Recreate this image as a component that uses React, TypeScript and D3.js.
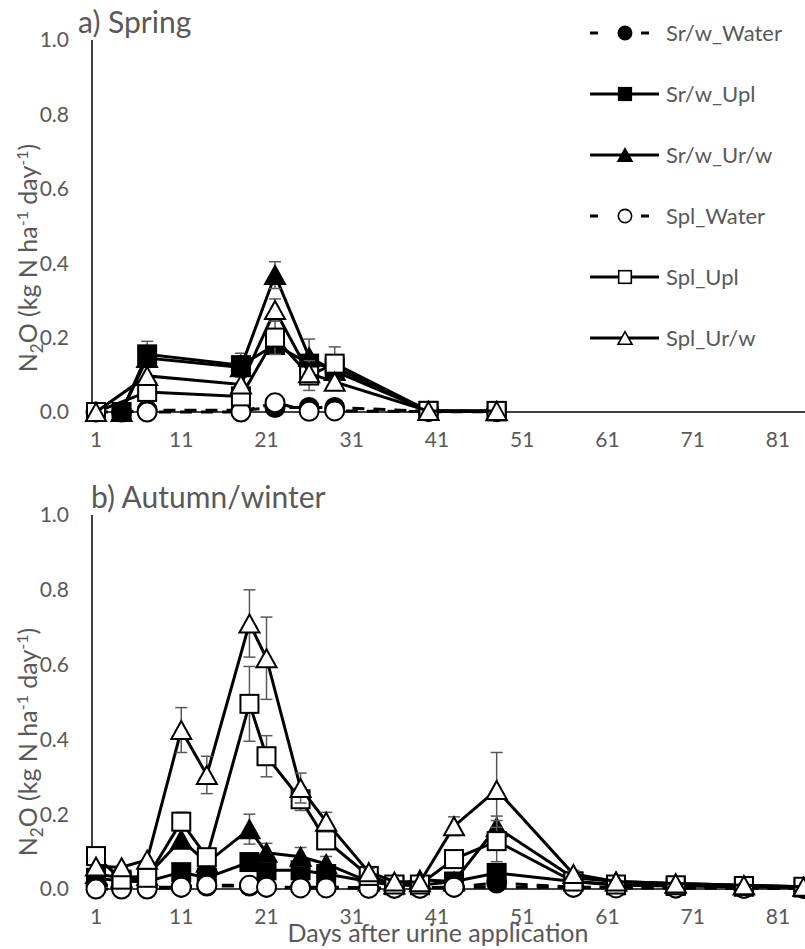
import React from "react";
import * as d3 from "d3";

// ---------- data ----------
const seriesNames = ["Sr/w_Water", "Sr/w_Upl", "Sr/w_Ur/w", "Spl_Water", "Spl_Upl", "Spl_Ur/w"];
const seriesMarkers = ["circle", "square", "triangle", "circle", "square", "triangle"];
const seriesFilled = [true, true, true, false, false, false];
const seriesDashed = [true, false, false, true, false, false];

const xTicks = [1, 11, 21, 31, 41, 51, 61, 71, 81];
const yTicks = [0, 0.2, 0.4, 0.6, 0.8, 1.0];
const xAxisLabel = "Days after urine application";

// a) Spring
const springDaysSrw = [4, 7, 18, 22, 26, 29, 40, 48];
const springDaysSpl = [1, 7, 18, 22, 26, 29, 40, 48];
const springSrwWater = [0.0, 0.005, 0.005, 0.012, 0.012, 0.012, 0.002, 0.002];
const springSrwUpl = [0.0, 0.155, 0.126, 0.18, 0.13, 0.12, 0.003, 0.002];
const springSrwUrw = [0.0, 0.145, 0.12, 0.368, 0.148, 0.11, 0.003, 0.002];
const springSplWater = [0.0, 0.0, 0.0, 0.025, 0.002, 0.003, 0.001, 0.001];
const springSplUpl = [0.0, 0.054, 0.042, 0.2, 0.098, 0.13, 0.003, 0.003];
const springSplUrw = [0.0, 0.097, 0.074, 0.274, 0.104, 0.081, 0.003, 0.003];
const springErrSrwUpl = [0, 0.035, 0.032, 0.02, 0.02, 0, 0, 0];
const springErrSrwUrw = [0, 0, 0, 0.036, 0.048, 0.03, 0, 0];
const springErrSplUpl = [0, 0, 0, 0.045, 0.04, 0.045, 0, 0];
const springErrSplUrw = [0, 0, 0, 0.03, 0, 0, 0, 0];

// b) Autumn/winter
const autumnDays = [1, 4, 7, 11, 14, 19, 21, 25, 28, 33, 36, 39, 43, 48, 57, 62, 69, 77, 84];
const autumnDaysSplWater = [1, 4, 7, 11, 14, 19, 21, 25, 28, 33, 36, 39, 43, 57, 62, 69, 77, 84];
const autumnSrwWater = [0.01, 0.008, 0.005, 0.005, 0.008, 0.008, 0.005, 0.005, 0.005, 0.003, 0.003, 0.003, 0.005, 0.016, 0.005, 0.004, 0.003, 0.002, 0.002];
const autumnSrwUpl = [0.03, 0.02, 0.02, 0.045, 0.03, 0.072, 0.05, 0.05, 0.04, 0.02, 0.01, 0.01, 0.02, 0.043, 0.02, 0.01, 0.008, 0.006, 0.004];
const autumnSrwUrw = [0.04, 0.03, 0.035, 0.132, 0.07, 0.16, 0.097, 0.086, 0.067, 0.02, 0.012, 0.025, 0.02, 0.165, 0.03, 0.02, 0.015, 0.01, 0.006];
const autumnSplWater = [0.0, 0.0, 0.0, 0.005, 0.01, 0.01, 0.005, 0.003, 0.003, 0.002, 0.002, 0.002, 0.005, 0.005, 0.003, 0.003, 0.002, 0.002];
const autumnSplUpl = [0.088, 0.025, 0.03, 0.18, 0.085, 0.495, 0.355, 0.24, 0.13, 0.035, 0.012, 0.012, 0.08, 0.128, 0.02, 0.012, 0.01, 0.008, 0.006];
const autumnSplUrw = [0.06, 0.058, 0.078, 0.425, 0.305, 0.71, 0.617, 0.27, 0.18, 0.045, 0.02, 0.018, 0.168, 0.265, 0.04, 0.02, 0.015, 0.01, 0.006];
const autumnErrSrwUrw = [0, 0, 0, 0, 0, 0.04, 0.025, 0.025, 0.02, 0, 0, 0, 0, 0.03, 0, 0, 0, 0, 0];
const autumnErrSplUpl = [0, 0, 0, 0.025, 0, 0.1, 0.055, 0.03, 0.02, 0, 0, 0, 0, 0.055, 0, 0, 0, 0, 0];
const autumnErrSplUrw = [0, 0, 0, 0.06, 0.05, 0.09, 0.11, 0.04, 0.025, 0.01, 0, 0, 0.025, 0.1, 0.01, 0, 0, 0, 0];

type Series = { days: number[]; values: number[]; errors?: number[] };

const springSeries: Series[] = [
  { days: springDaysSrw, values: springSrwWater },
  { days: springDaysSrw, values: springSrwUpl, errors: springErrSrwUpl },
  { days: springDaysSrw, values: springSrwUrw, errors: springErrSrwUrw },
  { days: springDaysSpl, values: springSplWater },
  { days: springDaysSpl, values: springSplUpl, errors: springErrSplUpl },
  { days: springDaysSpl, values: springSplUrw, errors: springErrSplUrw },
];

const autumnSeries: Series[] = [
  { days: autumnDays, values: autumnSrwWater },
  { days: autumnDays, values: autumnSrwUpl },
  { days: autumnDays, values: autumnSrwUrw, errors: autumnErrSrwUrw },
  { days: autumnDaysSplWater, values: autumnSplWater },
  { days: autumnDays, values: autumnSplUpl, errors: autumnErrSplUpl },
  { days: autumnDays, values: autumnSplUrw, errors: autumnErrSplUrw },
];

// ---------- style ----------
const FONT = "Lato, 'Open Sans', sans-serif";
const TEXT = "#595959";
const W = 805;
const H = 949;

const x = d3.scaleLinear().domain([1, 81]).range([96, 778]);

function Marker({ kind, filled, cx, cy, s = 1 }: { kind: string; filled: boolean; cx: number; cy: number; s?: number }) {
  const fill = filled ? "#000" : "#fff";
  const sw = 2 * (s < 1 ? 0.8 : 1);
  if (kind === "circle") return <circle cx={cx} cy={cy} r={9.5 * s} fill={fill} stroke="#000" strokeWidth={sw} />;
  if (kind === "square") {
    const a = 18 * s;
    return <rect x={cx - a / 2} y={cy - a / 2} width={a} height={a} fill={fill} stroke="#000" strokeWidth={sw} />;
  }
  const w = 20 * s, h = 18 * s;
  const p = `M${cx},${cy - h / 2}L${cx + w / 2},${cy + h / 2}L${cx - w / 2},${cy + h / 2}Z`;
  return <path d={p} fill={fill} stroke="#000" strokeWidth={sw} strokeLinejoin="miter" />;
}

function YTitle({ cx, cy }: { cx: number; cy: number }) {
  return (
    <text transform={`translate(${cx},${cy}) rotate(-90)`} textAnchor="middle" fontFamily={FONT} fontSize={25} fill={TEXT}>
      N<tspan fontSize={17} dy={6}>2</tspan>
      <tspan dy={-6}>O (kg N ha</tspan>
      <tspan fontSize={16} dy={-9}>-1</tspan>
      <tspan dy={9}> day</tspan>
      <tspan fontSize={16} dy={-9}>-1</tspan>
      <tspan dy={9}>)</tspan>
    </text>
  );
}

function Panel({ top, bottom, title, titleX, series, yTitleY }: { top: number; bottom: number; title: string; titleX: number; series: Series[]; yTitleY: number }) {
  const y = d3.scaleLinear().domain([0, 1]).range([bottom, top]);
  const line = d3.line<[number, number]>().x((d) => x(d[0])).y((d) => y(d[1]));
  return (
    <g>
      <text x={titleX} y={top - 7} fontFamily={FONT} fontSize={30} fill={TEXT}>{title}</text>
      {yTicks.map((t) => (
        <text key={t} x={69} y={y(t)} dy="0.35em" textAnchor="end" fontFamily={FONT} fontSize={21} fill={TEXT}>
          {d3.format(".1f")(t)}
        </text>
      ))}
      {xTicks.map((t) => (
        <text key={t} x={x(t)} y={bottom + 35} textAnchor="middle" fontFamily={FONT} fontSize={21} fill={TEXT}>
          {t}
        </text>
      ))}
      <line x1={92} x2={W} y1={bottom} y2={bottom} stroke="#000" strokeWidth={1.5} />
      <line x1={92} x2={92} y1={top} y2={bottom} stroke="#000" strokeWidth={1.5} />
      <YTitle cx={37} cy={yTitleY} />
      {series.map((s, i) => {
        const pts: [number, number][] = s.days.map((d, j) => [d, s.values[j]]);
        return (
          <g key={i}>
            <path d={line(pts) || ""} fill="none" stroke="#000" strokeWidth={3} strokeDasharray={seriesDashed[i] ? "12,9" : undefined} />
            {s.errors &&
              pts.map((p, j) =>
                s.errors![j] > 0 ? (
                  <g key={j} stroke={TEXT} strokeWidth={1.5}>
                    <line x1={x(p[0])} x2={x(p[0])} y1={y(p[1] - s.errors![j])} y2={y(p[1] + s.errors![j])} />
                    <line x1={x(p[0]) - 6} x2={x(p[0]) + 6} y1={y(p[1] + s.errors![j])} y2={y(p[1] + s.errors![j])} />
                    <line x1={x(p[0]) - 6} x2={x(p[0]) + 6} y1={y(p[1] - s.errors![j])} y2={y(p[1] - s.errors![j])} />
                  </g>
                ) : null
              )}
            {pts.map((p, j) => (
              <Marker key={j} kind={seriesMarkers[i]} filled={seriesFilled[i]} cx={x(p[0])} cy={y(p[1])} />
            ))}
          </g>
        );
      })}
    </g>
  );
}

function Legend() {
  const x0 = 590, x1 = 659, mx = 625, tx = 666, y0 = 33, step = 61;
  return (
    <g>
      {seriesNames.map((n, i) => {
        const yy = y0 + i * step;
        return (
          <g key={n}>
            {seriesDashed[i] ? (
              <>
                <line x1={x0} x2={x0 + 8} y1={yy} y2={yy} stroke="#000" strokeWidth={3} />
                <line x1={x1 - 18} x2={x1 - 10} y1={yy} y2={yy} stroke="#000" strokeWidth={3} />
              </>
            ) : (
              <line x1={x0} x2={x1} y1={yy} y2={yy} stroke="#000" strokeWidth={3} />
            )}
            <Marker kind={seriesMarkers[i]} filled={seriesFilled[i]} cx={mx} cy={yy} s={0.7} />
            <text x={tx} y={yy} dy="0.35em" fontFamily={FONT} fontSize={22} fill={TEXT}>{n}</text>
          </g>
        );
      })}
    </g>
  );
}

export default function App() {
  return (
    <svg width={W} height={H} style={{ position: "absolute", left: 0, top: 0, background: "#fff" }}>
      <rect width={W} height={H} fill="#fff" />
      <Panel top={40} bottom={412} title="a) Spring" titleX={78} series={springSeries} yTitleY={258} />
      <Panel top={515} bottom={889} title="b) Autumn/winter" titleX={91} series={autumnSeries} yTitleY={742} />
      <Legend />
      <text x={438} y={942} textAnchor="middle" fontFamily={FONT} fontSize={25} fill={TEXT}>{xAxisLabel}</text>
    </svg>
  );
}
